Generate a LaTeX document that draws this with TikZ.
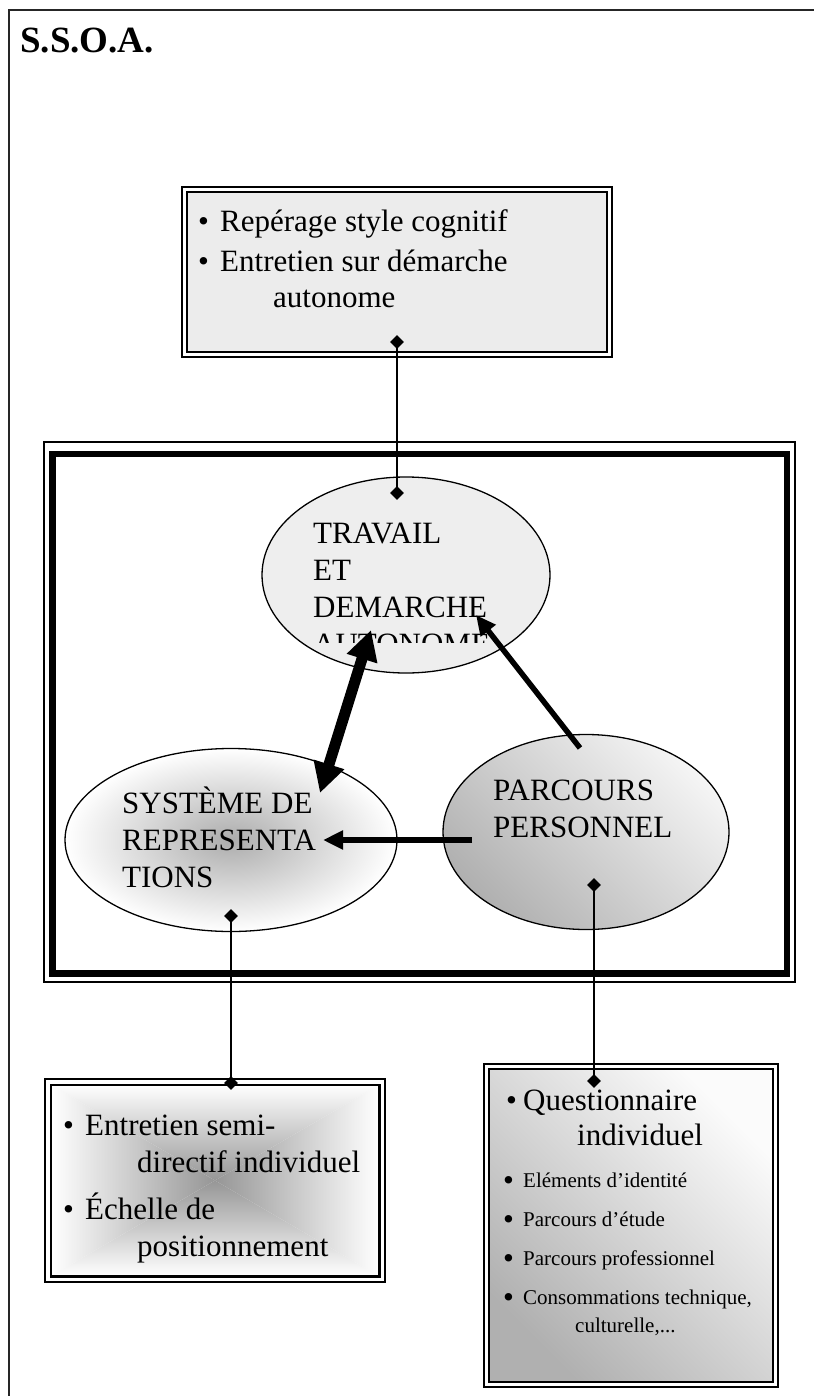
\documentclass[tikz,border=0pt]{standalone}
\usepackage{fontspec}
\setmainfont{Liberation Serif}
\usetikzlibrary{arrows.meta,shapes.geometric}
\definecolor{boxgray}{HTML}{ECECEC}
\definecolor{ellgray}{HTML}{EEEEEE}
\definecolor{midgray}{HTML}{969696}
\begin{document}
\begin{tikzpicture}[x=1pt,y=-1pt,
  big/.style={font=\fontsize{31}{37}\selectfont, anchor=base west, inner sep=0pt},
  sml/.style={font=\fontsize{21}{25}\selectfont, anchor=base west, inner sep=0pt},
  conn/.style={line width=2pt},
  dia/.style={diamond, aspect=1, fill=black, inner sep=0pt, minimum size=14pt},
  thinframe/.style={draw, line width=1.6pt, inner sep=0pt},
  thickframe/.style={draw, line width=2.6pt, inner sep=0pt},
  ell/.style={ellipse, draw, line width=1.3pt, inner sep=0pt},
  fat/.style={line width=11pt, {Triangle[length=30pt,width=30pt]}-{Triangle[length=30pt,width=30pt]}},
  arr/.style={line width=5.5pt, -{Triangle[length=20pt,width=18pt]}}
]
\useasboundingbox (0,0) rectangle (814,1396);
% page frame
\draw[line width=2pt, black!85] (9,1396) -- (9,10) -- (814,10);
\node[font=\bfseries\fontsize{37}{44}\selectfont, anchor=base west, inner sep=0pt] (title) at (20,53) {S.S.O.A.};

% big frame
\node[draw, line width=1.5pt, inner sep=0pt, minimum width=751pt, minimum height=540pt] (bigout) at (419.5,712) {};
\node[draw, line width=6.5pt, inner sep=0pt, minimum width=734.5pt, minimum height=519.5pt] (bigin) at (419.75,713.75) {};

% ellipses
\node[ell, fill=ellgray, minimum width=288pt, minimum height=196pt] (trav) at (406,575) {};
\node[ell, inner color=gray!65, outer color=white, minimum width=332pt, minimum height=183pt] (sys) at (231,840) {};
\node[ell, top color=gray!8, bottom color=gray!62, shading angle=-45, minimum width=286pt, minimum height=195pt] (par) at (586,832) {};

% ellipse texts
\node[big] (tr1) at (313,543) {TRAVAIL};
\node[big] (tr2) at (313,580) {ET};
\node[big] (tr3) at (313,617) {DEMARCHE};
\begin{scope}
  \clip (300,600) rectangle (497,642);
  \node[big] (tr4) at (313,654) {AUTONOME};
\end{scope}
\node[big] (sy1) at (122,813) {SYSTÈME DE};
\node[big] (sy2) at (122,850) {REPRESENTA};
\node[big] (sy3) at (122,887) {TIONS};
\node[big] (pa1) at (493,800) {PARCOURS};
\node[big] (pa2) at (493,837) {PERSONNEL};

% arrows
\coordinate (fatA) at (371,630);
\coordinate (fatB) at (320,793);
\draw[fat] (fatA) -- (fatB);
\coordinate (a1s) at (580,748);
\coordinate (a1e) at (476,615);
\draw[arr] (a1s) -- (a1e);
\coordinate (a2s) at (472,840);
\coordinate (a2e) at (323,840);
\draw[arr] (a2s) -- (a2e);

% top box
\node[thinframe, fill=white, minimum width=430pt, minimum height=170pt] (topout) at (397,272) {};
\node[thickframe, fill=boxgray, minimum width=420pt, minimum height=160pt] (topin) at (397,272) {};
\node[big] (tb1) at (198,232) {•};
\node[big] (tt1) at (220,232) {Repérage style cognitif};
\node[big] (tb2) at (198,272) {•};
\node[big] (tt2) at (220,272) {Entretien sur démarche};
\node[big] (tt3) at (273,308) {autonome};

% bottom-left box
\node[thinframe, fill=white, minimum width=340pt, minimum height=203pt] (blout) at (215,1180.5) {};
\path node[inner sep=0pt, minimum width=328pt, minimum height=191pt] (blin) at (215,1180.5) {};
\shade[top color=white, bottom color=midgray] (blin.north west) -- (blin.north east) -- (blin.center) -- cycle;
\shade[bottom color=white, top color=midgray] (blin.south west) -- (blin.south east) -- (blin.center) -- cycle;
\shade[left color=white, right color=midgray] (blin.north west) -- (blin.south west) -- (blin.center) -- cycle;
\shade[right color=white, left color=midgray] (blin.north east) -- (blin.south east) -- (blin.center) -- cycle;
\draw[line width=2.6pt] (blin.north west) rectangle (blin.south east);
\node[big] (lb1) at (63,1135) {•};
\node[big] (lt1) at (85,1135) {Entretien semi-};
\node[big] (lt2) at (137,1172) {directif individuel};
\node[big] (lb2) at (63,1219) {•};
\node[big] (lt3) at (85,1219) {Échelle de};
\node[big] (lt4) at (137,1256) {positionnement};

% bottom-right box
\node[thinframe, fill=white, minimum width=294pt, minimum height=323pt] (brout) at (631,1225.5) {};
\node[thickframe, top color=gray!3, bottom color=gray!62, shading angle=-45, minimum width=284pt, minimum height=313pt] (brin) at (631,1225.5) {};
\node[big] (rb1) at (506,1110) {•};
\node[big] (rt1) at (523,1110) {Questionnaire};
\node[big] (rt2) at (577,1145) {individuel};
\node[big] (rb2) at (503,1190) {•};
\node[sml] (rt3) at (523,1187) {Eléments d’identité};
\node[big] (rb3) at (503,1229) {•};
\node[sml] (rt4) at (523,1226) {Parcours d’étude};
\node[big] (rb4) at (503,1268) {•};
\node[sml] (rt5) at (523,1265) {Parcours professionnel};
\node[big] (rb5) at (503,1307) {•};
\node[sml] (rt6) at (523,1304) {Consommations technique,};
\node[sml] (rt7) at (575,1332) {culturelle,...};

% connectors
\node[dia] (d1) at (397,342) {};
\node[dia] (d2) at (397,493) {};
\draw[conn] (d1.center) -- (d2.center);
\node[dia] (d3) at (231,916) {};
\node[dia] (d4) at (231,1083) {};
\draw[conn] (d3.center) -- (d4.center);
\node[dia] (d5) at (594,885) {};
\node[dia] (d6) at (594,1081) {};
\draw[conn] (d5.center) -- (d6.center);
\end{tikzpicture}
\end{document}
